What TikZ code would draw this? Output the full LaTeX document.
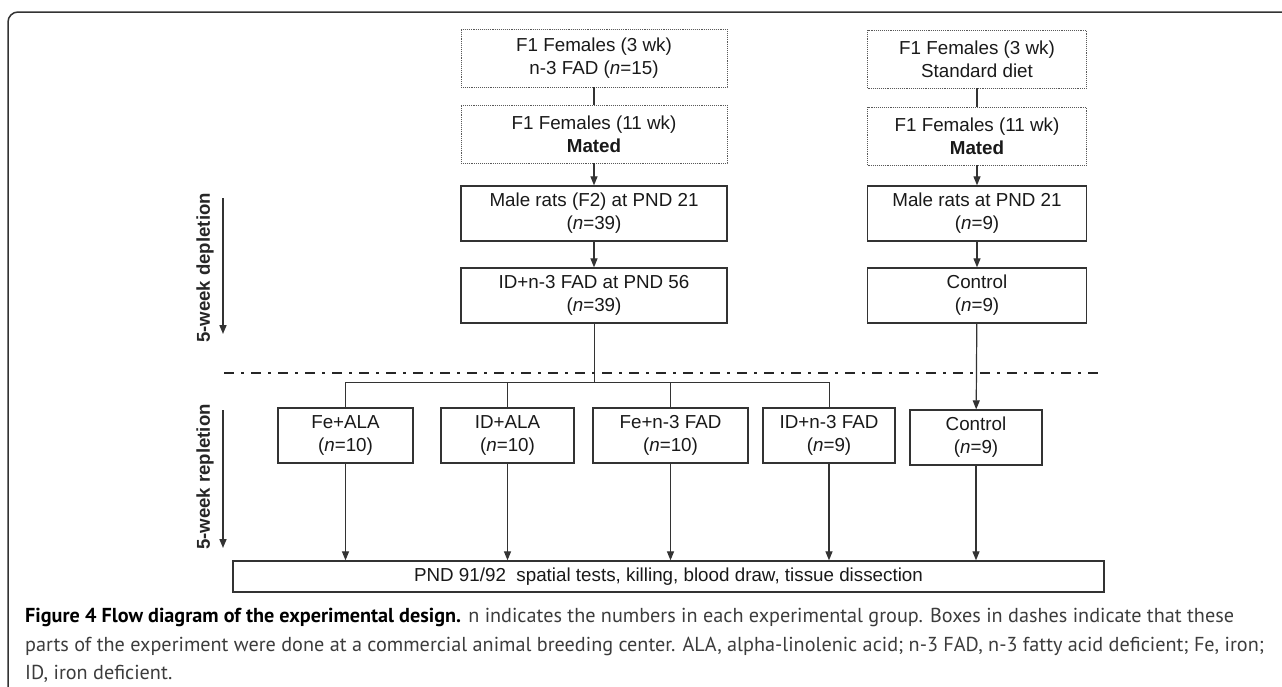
\documentclass[tikz,border=0pt]{standalone}
\usepackage{fontspec}
\setmainfont{Liberation Sans}
\newfontfamily\capfont{PT Sans}
\usetikzlibrary{arrows.meta}
\definecolor{linegray}{HTML}{333333}
\definecolor{textgray}{HTML}{3C3C3C}

\begin{document}
\begin{tikzpicture}[line join=miter,>={Triangle[length=9pt,width=7pt]},x=1pt,y=-1pt,
    box/.style={draw=linegray,line width=1.3pt,align=center,inner sep=0pt,
        font=\fontsize{18.8}{23}\selectfont,text=black!90},
    dotbox/.style={box,draw=black!65,line width=0.9pt,densely dotted},
    link/.style={draw=linegray,line width=1.2pt},
    sidelabel/.style={rotate=90,font=\fontsize{18.6}{22}\selectfont\bfseries,text=black!85},
    capline/.style={anchor=base west,inner sep=0pt,font=\capfont\fontsize{20.2}{25}\selectfont,text=textgray}]
        \useasboundingbox (0,0) rectangle (1282,686);
        % frame
        \draw[linegray,line width=1.5pt,rounded corners=10pt] (8,690) -- (8,12) -- (1290,12);
        % breeding center (dotted)
        \node[dotbox,minimum width=266pt,minimum height=58pt] (femA) at (594,58) {F1 Females (3 wk)\\n-3 FAD (\textit{n}=15)};
        \node[dotbox,minimum width=266pt,minimum height=58pt] (matA) at (594,134) {F1 Females (11 wk)\\\textbf{Mated}};
        \node[dotbox,minimum width=219pt,minimum height=58pt] (femB) at (977,59) {F1 Females (3 wk)\\Standard diet};
        \node[dotbox,minimum width=219pt,minimum height=58pt] (matB) at (977,136) {F1 Females (11 wk)\\\textbf{Mated}};
        % depletion
        \node[box,minimum width=266pt,minimum height=55pt] (ratA) at (594,213.5) {Male rats (F2) at PND 21\\(\textit{n}=39)};
        \node[box,minimum width=266pt,minimum height=55pt] (depA) at (594,295.5) {ID+n-3 FAD at PND 56\\(\textit{n}=39)};
        \node[box,minimum width=219pt,minimum height=55pt] (ratB) at (977,213.5) {Male rats at PND 21\\(\textit{n}=9)};
        \node[box,minimum width=219pt,minimum height=55pt] (depB) at (977,295.5) {Control\\(\textit{n}=9)};
        % repletion
        \node[box,minimum width=135pt,minimum height=55pt] (feala) at (345.5,435.5) {Fe+ALA\\(\textit{n}=10)};
        \node[box,minimum width=133pt,minimum height=55pt] (idala) at (507.5,435.5) {ID+ALA\\(\textit{n}=10)};
        \node[box,minimum width=155pt,minimum height=55pt] (fefad) at (670.5,435.5) {Fe+n-3 FAD\\(\textit{n}=10)};
        \node[box,minimum width=132pt,minimum height=55pt] (idfad) at (829,435.5) {ID+n-3 FAD\\(\textit{n}=9)};
        \node[box,minimum width=132pt,minimum height=55pt] (ctrl) at (976,437.5) {Control\\(\textit{n}=9)};
        \node[box,minimum width=871pt,minimum height=31pt] (end) at (668.5,576.5) {PND 91/92\ \ spatial tests, killing, blood draw, tissue dissection};
        % connectors
        \draw[link] (femA) -- (matA);
        \draw[link] (femB) -- (matB);
        \draw[link,->] (matA) -- (ratA);
        \draw[link,->] (ratA) -- (depA);
        \draw[link,->] (matB) -- (ratB);
        \draw[link,->] (ratB) -- (depB);
        \draw[link,->] (depB) -- (ctrl);
        \coordinate (split) at (594,382);
        \draw[link,line width=1pt] (depA) -- (split);
        \draw[link,line width=1pt] (feala.north |- split) -- (idfad.north |- split);
        \foreach \g in {feala,idala,fefad,idfad}
            \draw[link,line width=1pt] (\g.north |- split) -- (\g.north);
        \foreach \g in {feala,idala,fefad,idfad,ctrl}
            \draw[link,->] (\g) -- (\g.south |- end.north);
        % phase divider
        \draw[black!85,line width=2pt,dash pattern=on 10pt off 7pt on 3pt off 7pt] (224,373) -- (1101,373);
        % side arrows
        \coordinate (dep0) at (223,198);
        \coordinate (dep1) at (223,334);
        \coordinate (rep0) at (223,410);
        \coordinate (rep1) at (223,548);
        \draw[link,line width=1.6pt,->] (dep0) -- (dep1);
        \draw[link,line width=1.6pt,->] (rep0) -- (rep1);
        \node[sidelabel] (deplab) at (205,268) {5-week depletion};
        \node[sidelabel] (replab) at (205,477) {5-week repletion};
        % caption
        \node[capline] (cap1) at (25,622) {\textbf{\color{black}Figure 4 Flow diagram of the experimental design.} n indicates the numbers in each experimental group. Boxes in dashes indicate that these};
        \node[capline] (cap2) at (25,651) {parts of the experiment were done at a commercial animal breeding center. ALA, alpha-linolenic acid; n-3 FAD, n-3 fatty acid deficient; Fe, iron;};
        \node[capline] (cap3) at (25,679) {ID, iron deficient.};
    \end{tikzpicture}
\end{document}
